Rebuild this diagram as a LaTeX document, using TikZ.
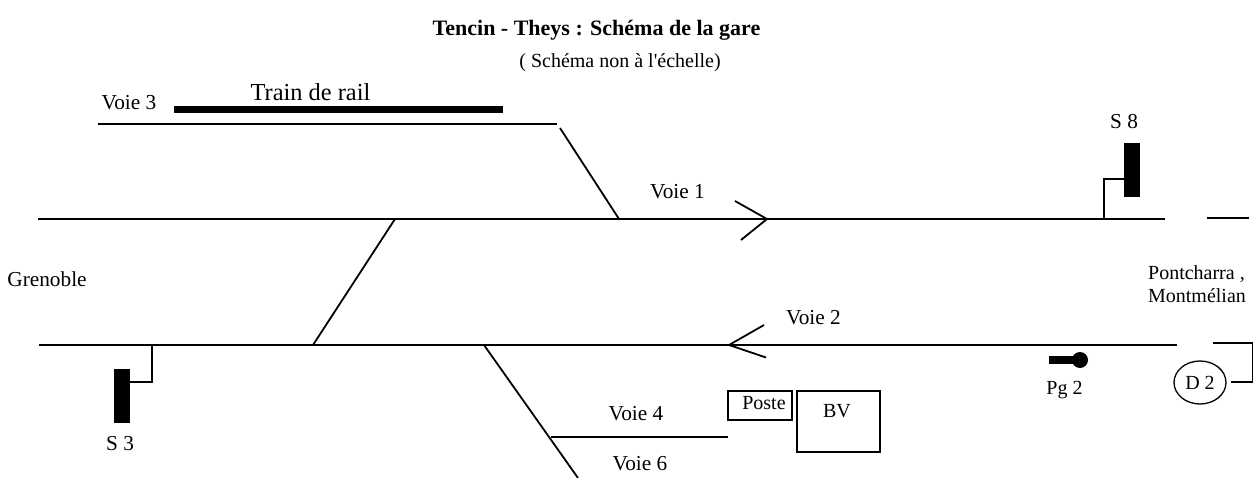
\documentclass[tikz,border=0pt]{standalone}
\usepackage{fontspec}
\usetikzlibrary{shapes.geometric}
\setmainfont{Liberation Serif}
\newfontfamily\plainserif{Liberation Serif}
\tikzset{
  txt/.style={inner sep=0pt,font=\fontsize{21.3}{23}\selectfont},
  small/.style={inner sep=0pt,font=\fontsize{20}{23}\selectfont},
  track/.style={line width=1.8pt,black},
  solid box/.style={fill=black,draw=none,inner sep=0pt,minimum width=16pt},
  framebox/.style={draw=black,line width=1.6pt,inner sep=0pt}
}
\begin{document}
\begin{tikzpicture}[x=1pt,y=-1pt]
\useasboundingbox (0,0) rectangle (1255,478);
% texts
\node[inner sep=0pt,font=\fontsize{22}{25}\selectfont\bfseries] (title) at (596.5,30) {Tencin - Theys : Schéma de la gare};
\node[small,font=\fontsize{20}{23}\selectfont\plainserif] (sub) at (620,63) {( Schéma non à l'échelle)};
\node[txt] (v3) at (129,103) {Voie 3};
\node[inner sep=0pt,font=\fontsize{24.4}{27}\selectfont] (train) at (310.5,92) {Train de rail};
\node[txt] (v1) at (677.5,192) {Voie 1};
\node[txt] (v2) at (813.5,318) {Voie 2};
\node[txt] (v4) at (636,414) {Voie 4};
\node[txt] (v6) at (640,464) {Voie 6};
\node[txt] (gr) at (47,279) {Grenoble};
\node[small,align=left] (pm) at (1197,284) {Pontcharra ,\\Montmélian};
\node[txt] (s8) at (1124,122) {S 8};
\node[txt] (s3) at (120,444) {S 3};
\node[small] (pg) at (1064.5,390) {Pg 2};
% solid shapes
\node[solid box,minimum width=329pt,minimum height=7pt] (bar) at (338.5,109.5) {};
\node[solid box,minimum height=54pt] (S8) at (1132,170) {};
\node[solid box,minimum height=54pt] (S3) at (122,396) {};
\node[fill=black,inner sep=0pt,minimum width=26pt,minimum height=8pt] (pgb) at (1062,360) {};
\node[circle,fill=black,inner sep=0pt,minimum size=16pt] (pgc) at (1080,360) {};
% boxes
\node[framebox,minimum width=64pt,minimum height=29pt] (poste) at (760,405.5) {};
\node[small] (postet) at (764,403) {Poste};
\node[framebox,minimum width=83pt,minimum height=61pt] (bv) at (838.5,421.5) {};
\node[small] (bvt) at (837,411.5) {BV};
\node[draw=black,line width=1.3pt,ellipse,minimum width=52pt,minimum height=43pt,inner sep=0pt,font=\fontsize{20}{23}\selectfont] (d2) at (1200,382.5) {D 2};
% coordinates
\coordinate (a1) at (98,124);
\coordinate (a2) at (557,124);
\coordinate (b1) at (560,128);
\coordinate (b2) at (619,219);
\coordinate (l1) at (38,219);
\coordinate (l2) at (1165,219);
\coordinate (l3) at (1207,218);
\coordinate (l4) at (1249,218);
\coordinate (c1) at (395,219);
\coordinate (c2) at (313,345);
\coordinate (m1) at (39,345);
\coordinate (m2) at (1177,345);
\coordinate (d1a) at (484,345);
\coordinate (d1b) at (578,478);
\coordinate (e1) at (551,437);
\coordinate (e2) at (728,437);
\coordinate (r1) at (1213,343);
\coordinate (r2) at (1252.5,343);
\coordinate (r3) at (1252.5,382);
\coordinate (r4) at (1231,382);
\coordinate (s8a) at (1104,219);
\coordinate (s8b) at (1104,179);
\coordinate (s8c) at (1124,179);
\coordinate (s3a) at (152,345);
\coordinate (s3b) at (152,382);
\coordinate (s3c) at (130,382);
\coordinate (ar1) at (735,201);
\coordinate (ar2) at (767,219);
\coordinate (ar3) at (741,240);
\coordinate (al1) at (764,325);
\coordinate (al2) at (729,345);
\coordinate (al3) at (766,357.5);
% tracks
\draw[track] (a1) -- (a2);
\draw[track] (b1) -- (b2);
\draw[track] (l1) -- (l2);
\draw[track] (l3) -- (l4);
\draw[track] (c1) -- (c2);
\draw[track] (m1) -- (m2);
\draw[track] (d1a) -- (d1b);
\draw[track] (e1) -- (e2);
\draw[track] (r1) -- (r2) -- (r3) -- (r4);
\draw[track] (s8a) -- (s8b) -- (s8c);
\draw[track] (s3a) -- (s3b) -- (s3c);
\draw[track] (ar1) -- (ar2) -- (ar3);
\draw[track] (al1) -- (al2) -- (al3);
\end{tikzpicture}
\end{document}
